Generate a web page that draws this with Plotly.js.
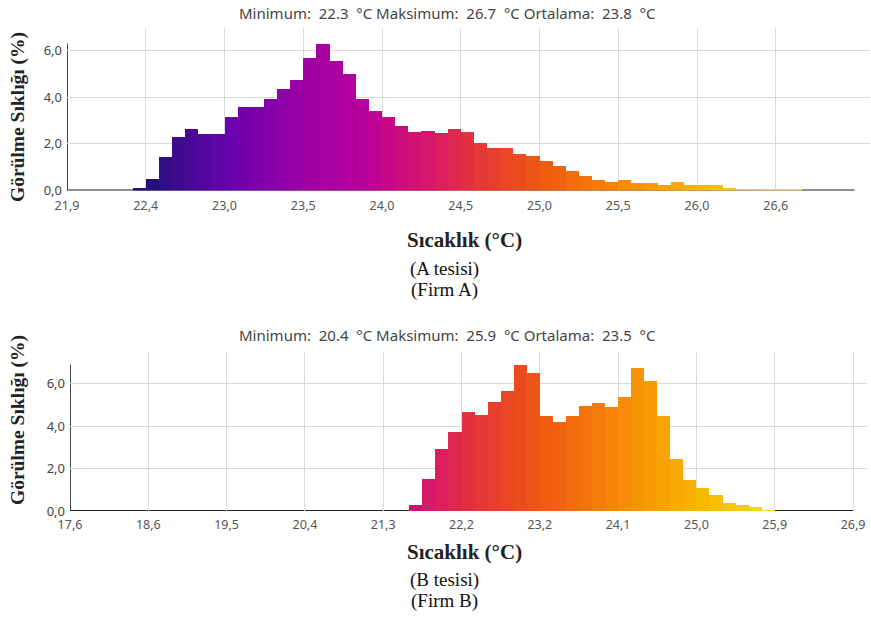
<!DOCTYPE html>
<html>
<head>
<meta charset="utf-8">
<script src="https://cdn.plot.ly/plotly-3.0.1.min.js"></script>
<style>html,body{margin:0;padding:0;background:#fff;}#chart{width:871px;height:626px;}</style>
</head>
<body>
<div id="chart"></div>
<script>
// Bin frequencies (%) — 60 equal-width bins per chart
const freqA = [0,0,0,0,0,0.11,0.48,1.42,2.30,2.65,
               2.42,2.42,3.13,3.57,3.59,3.91,4.33,4.72,5.69,6.26,
               5.55,5.01,3.91,3.40,3.16,2.78,2.52,2.55,2.45,2.64,
               2.50,2.05,1.81,1.81,1.56,1.48,1.28,1.07,0.82,0.61,
               0.43,0.35,0.47,0.33,0.33,0.24,0.36,0.25,0.22,0.22,
               0.10,0.05,0.05,0.05,0.05,0.05,0,0,0,0];
const freqB = [0,0,0,0,0,0,0,0,0,0,
               0,0,0,0,0,0,0,0,0,0,
               0,0,0,0,0,0,0.30,1.50,2.95,3.75,
               4.68,4.55,5.15,5.65,6.88,6.50,4.50,4.19,4.49,4.96,
               5.12,4.89,5.37,6.77,6.16,4.48,2.45,1.45,1.07,0.74,
               0.40,0.30,0.17,0.07,0,0,0,0,0,0];
const tickLabelsA = ['21,9','22,4','23,0','23,5','24,0','24,5','25,0','25,5','26,0','26,6'];
const tickLabelsB = ['17,6','18,6','19,5','20,4','21,3','22,2','23,2','24,1','25,0','25,9','26,9'];
const statsA = 'Minimum:\u00a0 22.3 \u00a0°C Maksimum:\u00a0 26.7 \u00a0°C Ortalama:\u00a0 23.8 \u00a0°C';
const statsB = 'Minimum:\u00a0 20.4 \u00a0°C Maksimum:\u00a0 25.9 \u00a0°C Ortalama:\u00a0 23.5 \u00a0°C';
const yTitle = 'Görülme Sıklığı (%)';
const xTitle = 'Sıcaklık (°C)';
const subA = ['(A tesisi)', '(Firm A)'];
const subB = ['(B tesisi)', '(Firm B)'];
const BINS_PER_TICK = 6;

const thermal = [
  [0, '#26107e'], [0.125, '#6a02ae'], [0.25, '#a000a6'], [0.333, '#b8009c'],
  [0.375, '#c60888'], [0.44, '#d81868'], [0.5, '#e23040'], [0.58, '#ea4c1c'],
  [0.625, '#f05c10'], [0.75, '#f88c08'], [0.875, '#f8b800'], [1, '#f0e028']
];

function barTrace(freq, xa, ya) {
  const idx = freq.map((_, i) => i);
  return {
    type: 'bar', x: idx.map(i => i + 0.5), y: freq, width: 1,
    xaxis: xa, yaxis: ya,
    marker: { color: idx, colorscale: thermal, cmin: 6, cmax: 54, line: { width: 0 } },
    hoverinfo: 'skip'
  };
}

const W = 871, H = 626;
const fx = p => p / W, fy = p => 1 - p / H;
const grid = '#d9d9d9';
const tickFont = { family: 'Noto Sans, Open Sans, sans-serif', size: 12.5, color: '#555' };
const yTickFont = { family: 'Noto Sans, Open Sans, sans-serif', size: 13, color: '#444' };
const serif = 'Liberation Serif, Times New Roman, serif';

function tv(labels) { return labels.map((_, i) => i * BINS_PER_TICK); }

const layout = {
  width: W, height: H, margin: { l: 0, r: 0, t: 0, b: 0 },
  paper_bgcolor: '#fff', plot_bgcolor: '#fff', showlegend: false,
  bargap: 0, separators: ',.',
  xaxis: { domain: [fx(67), fx(870)], range: [0, 61.18], anchor: 'y',
    tickvals: tv(tickLabelsA), ticktext: tickLabelsA, showgrid: true, gridcolor: grid,
    zeroline: false, showline: false, ticks: '', ticklabelstandoff: 6, tickfont: tickFont },
  yaxis: { domain: [fy(190.5), fy(28)], range: [0, 6.96], anchor: 'x',
    tickvals: [0, 2, 4, 6], tickformat: '.1f', showgrid: true, gridcolor: grid,
    zeroline: false, showline: false, ticks: '', ticklabelstandoff: 4, tickfont: yTickFont },
  xaxis2: { domain: [fx(70), fx(867)], range: [0, 61.07], anchor: 'y2',
    tickvals: tv(tickLabelsB), ticktext: tickLabelsB, showgrid: true, gridcolor: grid,
    zeroline: false, showline: false, ticks: '', ticklabelstandoff: 4, tickfont: tickFont },
  yaxis2: { domain: [fy(511), fy(351.7)], range: [0, 7.52], anchor: 'x2',
    tickvals: [0, 2, 4, 6], tickformat: '.1f', showgrid: true, gridcolor: grid,
    zeroline: false, showline: false, ticks: '', ticklabelstandoff: 4, tickfont: yTickFont },
  shapes: [
    { type: 'line', xref: 'x', yref: 'y', x0: 0, x1: freqA.length, y0: 0, y1: 0, line: { color: '#222', width: 2 }, layer: 'below' },
    { type: 'line', xref: 'x', yref: 'y', x0: 0, x1: 0, y0: 0, y1: 6.3, line: { color: '#444', width: 2 }, layer: 'below' },
    { type: 'line', xref: 'x2', yref: 'y2', x0: 0, x1: freqB.length, y0: 0, y1: 0, line: { color: '#222', width: 2 }, layer: 'below' },
    { type: 'line', xref: 'x2', yref: 'y2', x0: 0, x1: 0, y0: 0, y1: 6.9, line: { color: '#444', width: 2 }, layer: 'below' }
  ],
  annotations: []
};

function ann(text, px, py, font, extra) {
  layout.annotations.push(Object.assign({ text: text, xref: 'paper', yref: 'paper', x: fx(px), y: fy(py),
    xanchor: 'center', yanchor: 'middle', showarrow: false, font: font }, extra || {}));
}
const statFont = { family: 'Noto Sans, Open Sans, sans-serif', size: 15, color: '#444' };
const yTitleFont = { family: serif, size: 19.5, color: '#222' };
const xTitleFont = { family: serif, size: 21, color: '#222' };
const subFont = { family: serif, size: 19, color: '#111' };

ann(statsA, 447, 13, statFont);
ann('<b>' + yTitle + '</b>', 18, 117, yTitleFont, { textangle: -90 });
ann('<b>' + xTitle + '</b>', 464, 240, xTitleFont);
ann(subA[0], 444, 269, subFont);
ann(subA[1], 444, 290, subFont);

ann(statsB, 447, 335, statFont);
ann('<b>' + yTitle + '</b>', 18, 420, yTitleFont, { textangle: -90 });
ann('<b>' + xTitle + '</b>', 464, 552, xTitleFont);
ann(subB[0], 444, 580, subFont);
ann(subB[1], 444, 601, subFont);

Plotly.newPlot('chart', [barTrace(freqA, 'x', 'y'), barTrace(freqB, 'x2', 'y2')], layout,
  { displayModeBar: false, staticPlot: true });
</script>
</body>
</html>
